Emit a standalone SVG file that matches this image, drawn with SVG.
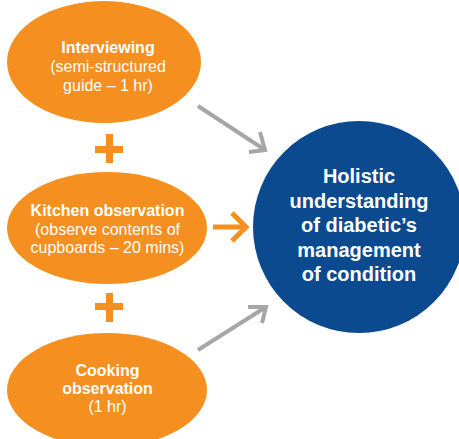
<svg xmlns="http://www.w3.org/2000/svg" width="459" height="439" viewBox="0 0 459 439">
<style>
.ell{fill:#f58f20}
.t{font-family:"Liberation Sans",Arial,sans-serif;fill:#fff;text-anchor:middle;font-size:16px}
.b{font-weight:bold}
.big{font-size:20px;font-weight:bold}
.g{stroke:#a6a6a6;stroke-width:4;fill:none;stroke-linecap:butt}
.o{stroke:#f58f20;stroke-width:5;fill:none}
.plus{fill:#f58f20}
</style>
<rect width="459" height="439" fill="#fff"/>
<g id="interviewing">
<ellipse class="ell" cx="104" cy="62" rx="97" ry="61"/>
<text class="t b" x="108" y="53">Interviewing</text>
<text class="t" x="108" y="72">(semi-structured</text>
<text class="t" x="108" y="91">guide – 1 hr)</text>
</g>
<g id="plus1"><rect class="plus" x="106" y="134" width="7" height="29"/><rect class="plus" x="95" y="146" width="28" height="7"/></g>
<g id="kitchen">
<ellipse class="ell" cx="107" cy="228" rx="100" ry="56"/>
<text class="t b" x="107.5" y="216">Kitchen observation</text>
<text class="t" x="107.5" y="235">(observe contents of</text>
<text class="t" x="107.5" y="253">cupboards – 20 mins)</text>
</g>
<g id="plus2"><rect class="plus" x="106" y="293" width="7" height="29"/><rect class="plus" x="95" y="303" width="28" height="7"/></g>
<g id="cooking">
<ellipse class="ell" cx="107" cy="390" rx="100" ry="57"/>
<text class="t b" x="107.5" y="376">Cooking</text>
<text class="t b" x="107.5" y="394">observation</text>
<text class="t" x="107.5" y="412">(1 hr)</text>
</g>
<g id="outcome">
<circle cx="359" cy="227" r="106" fill="#0b4a8f"/>
<text class="t big" x="359" y="183">Holistic</text>
<text class="t big" x="359" y="208">understanding</text>
<text class="t big" x="359" y="232">of diabetic’s</text>
<text class="t big" x="359" y="257">management</text>
<text class="t big" x="359" y="281">of condition</text>
</g>
<g id="connectors">
<path class="g" d="M198 106 L265 150 M260 132 L265 150 L249 152"/>
<path class="o" d="M213 227 L246 227 M232 213 L246 227 L232 241"/>
<path class="g" d="M198 350 L266 307 M248 307 L266 307 L262 323"/>
</g>
</svg>
